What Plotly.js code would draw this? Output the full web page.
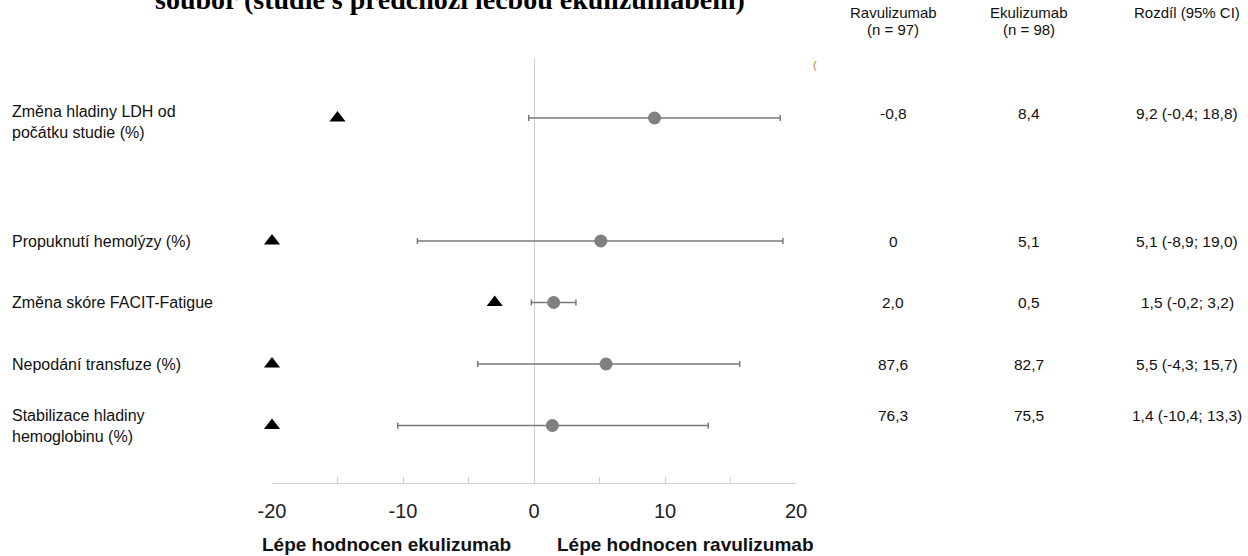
<!DOCTYPE html>
<html>
<head>
<meta charset="utf-8">
<script src="https://cdn.plot.ly/plotly-3.0.1.min.js"></script>
<style>html,body{margin:0;padding:0;background:#fff;}#chart{width:1248px;height:556px;}</style>
</head>
<body>
<div id="chart"></div>
<script>
// ---- data ----
var outcomes = ["Změna hladiny LDH od<br>počátku studie (%)", "Propuknutí hemolýzy (%)", "Změna skóre FACIT-Fatigue", "Nepodání transfuze (%)", "Stabilizace hladiny<br>hemoglobinu (%)"];
var diff = [9.2, 5.1, 1.5, 5.5, 1.4];
var ciLow = [-0.4, -8.9, -0.2, -4.3, -10.4];
var ciHigh = [18.8, 19.0, 3.2, 15.7, 13.3];
var margin = [-15, -20, -3, -20, -20];
var ravuText = ["-0,8", "0", "2,0", "87,6", "76,3"];
var ekuText = ["8,4", "5,1", "0,5", "82,7", "75,5"];
var diffText = ["9,2 (-0,4; 18,8)", "5,1 (-8,9; 19,0)", "1,5 (-0,2; 3,2)", "5,5 (-4,3; 15,7)", "1,4 (-10,4; 13,3)"];
var tickVals = [-20, -15, -10, -5, 0, 5, 10, 15, 20];
var tickText = ["-20", "", "-10", "", "0", "", "10", "", "20"];
var headerLine1 = ["Ravulizumab", "Ekulizumab", "Rozdíl (95% CI)"];
var headerLine2 = ["(n = 97)", "(n = 98)", ""];
var titleText = "soubor (studie s předchozí léčbou ekulizumabem)";
var favourLeft = "Lépe hodnocen ekulizumab";
var favourRight = "Lépe hodnocen ravulizumab";

// ---- layout helpers ----
var rowPos = [0, 2, 3, 4, 5];
var L = 272, R = 796, T = 58, B = 483;
function px(p) { return (p - L) / (R - L); }
function py(p) { return (B - p) / (B - T); }
var FONT = "Liberation Sans, Arial, sans-serif";

var errPlus = diff.map(function (d, i) { return ciHigh[i] - d; });
var errMinus = diff.map(function (d, i) { return d - ciLow[i]; });

var traces = [
  {
    type: "scatter", mode: "markers", x: margin, y: rowPos, cliponaxis: false,
    marker: { symbol: "triangle-up", color: "#000000", size: 14 },
    hoverinfo: "skip", showlegend: false
  },
  {
    type: "scatter", mode: "markers", x: diff, y: rowPos, cliponaxis: false,
    marker: { symbol: "circle", color: "#808080", size: 13 },
    error_x: { type: "data", symmetric: false, array: errPlus, arrayminus: errMinus, color: "#7a7a7a", thickness: 1.5, width: 3 },
    hoverinfo: "skip", showlegend: false
  }
];

var ann = [];
// clipped title (cut off by the top edge, as in the reference)
ann.push({ text: "<b>" + titleText + "</b>", xref: "paper", yref: "paper", x: px(450), y: py(17), xanchor: "center", yanchor: "bottom", showarrow: false, font: { family: "Liberation Serif, Times New Roman, serif", size: 28, color: "#000" } });
// headers
var colX = [893, 1029, 1187];
headerLine1.forEach(function (h, i) {
  ann.push({ text: h, xref: "paper", yref: "paper", x: px(colX[i]), y: py(13), xanchor: "center", yanchor: "middle", showarrow: false, font: { family: FONT, size: 15, color: "#111" } });
  if (headerLine2[i]) {
    ann.push({ text: headerLine2[i], xref: "paper", yref: "paper", x: px(colX[i]), y: py(29), xanchor: "center", yanchor: "middle", showarrow: false, font: { family: FONT, size: 15, color: "#111" } });
  }
});
// small artifact
ann.push({ text: "(", xref: "paper", yref: "paper", x: px(815), y: py(65), xanchor: "center", yanchor: "middle", showarrow: false, font: { family: FONT, size: 11, color: "#c07a10" } });
// rows
outcomes.forEach(function (o, i) {
  var two = o.indexOf("<br>") >= 0;
  ann.push({ text: o, xref: "paper", yref: "y", x: px(10), y: rowPos[i], xanchor: "left", yanchor: "middle", align: "left", yshift: (i === 0 ? -4 : 0), showarrow: false, font: { family: FONT, size: 16, color: "#111" } });
  [ravuText[i], ekuText[i], diffText[i]].forEach(function (t, j) {
    ann.push({ text: t, xref: "paper", yref: "y", x: px(colX[j]), y: rowPos[i], xanchor: "center", yanchor: "middle", yshift: two ? (i === 0 ? 5 : 10) : 0, showarrow: false, font: { family: FONT, size: 15.5, color: "#111" } });
  });
});
// favour labels
ann.push({ text: "<b>" + favourLeft + "</b>", xref: "paper", yref: "paper", x: px(513), y: py(544), xanchor: "right", yanchor: "middle", showarrow: false, font: { family: FONT, size: 19, color: "#111" } });
ann.push({ text: "<b>" + favourRight + "</b>", xref: "paper", yref: "paper", x: px(555), y: py(544), xanchor: "left", yanchor: "middle", showarrow: false, font: { family: FONT, size: 19, color: "#111" } });

var yTop = (T - 118) / 61.5, yBot = (B - 118) / 61.5;

var layout = {
  width: 1248, height: 556,
  margin: { l: L, r: 1248 - R, t: T, b: 556 - B, pad: 0 },
  paper_bgcolor: "#ffffff", plot_bgcolor: "#ffffff",
  showlegend: false,
  xaxis: {
    range: [-20, 20], tickmode: "array", tickvals: tickVals, ticktext: tickText,
    showgrid: false, zeroline: true, zerolinecolor: "#d0d0d0", zerolinewidth: 1,
    showline: true, linecolor: "#cfcfcf", linewidth: 1,
    ticks: "inside", ticklen: 6, tickcolor: "#cfcfcf", tickwidth: 1,
    ticklabelstandoff: 10,
    tickfont: { family: FONT, size: 20, color: "#222" }, fixedrange: true
  },
  yaxis: {
    range: [yBot, yTop], showgrid: false, zeroline: false, showline: false,
    showticklabels: false, ticks: "", fixedrange: true
  },
  annotations: ann
};

Plotly.newPlot("chart", traces, layout, { displayModeBar: false, staticPlot: true });
</script>
</body>
</html>
